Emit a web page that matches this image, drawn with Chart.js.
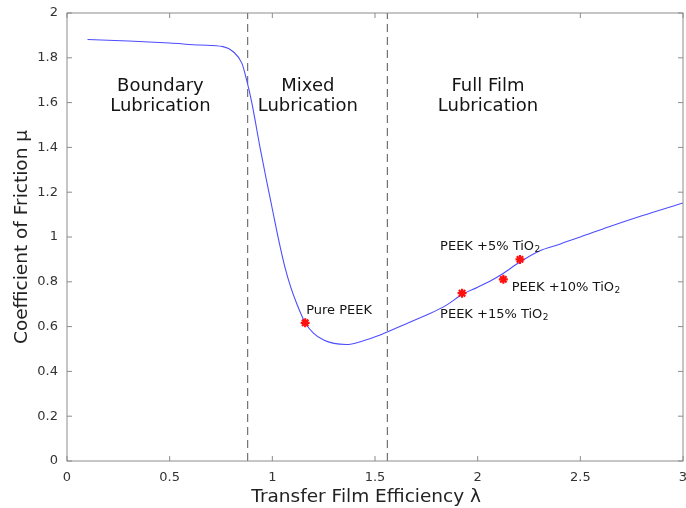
<!DOCTYPE html>
<html>
<head>
<meta charset="utf-8">
<script src="https://cdn.jsdelivr.net/npm/chart.js@4.4.1/dist/chart.umd.min.js"></script>
<style>
  html, body { margin: 0; padding: 0; background: #fff; }
  #wrap { width: 686px; height: 508px; }
</style>
</head>
<body>
<div id="wrap"><canvas id="chart" width="686" height="508"></canvas></div>
<script>
// friction curve
const lambdaValues = [0.1, 0.3, 0.5, 0.65, 0.76, 0.81, 0.852, 0.875, 0.90, 0.94, 0.97, 1.0, 1.03, 1.06,
  1.09, 1.12, 1.16, 1.20, 1.25, 1.30, 1.36, 1.44, 1.525, 1.557, 1.653, 1.765, 1.85, 1.924,
  2.0, 2.07, 2.12, 2.2, 2.3, 2.4, 2.5, 2.64, 2.8, 3.0];
const muValues = [1.882, 1.875, 1.866, 1.857, 1.85, 1.827, 1.775, 1.70, 1.60, 1.40, 1.26, 1.125, 0.99, 0.87,
  0.775, 0.70, 0.617, 0.571, 0.54, 0.525, 0.52, 0.536, 0.5625, 0.575, 0.613, 0.657, 0.697, 0.743,
  0.776, 0.808, 0.835, 0.885, 0.938, 0.968, 1.0, 1.046, 1.095, 1.152];

// measured samples
const sampleNames = ['Pure PEEK', 'PEEK +15% TiO', 'PEEK +10% TiO', 'PEEK +5% TiO'];
const sampleSub = ['', '2', '2', '2'];
const sampleLambda = [1.16, 1.924, 2.125, 2.206];
const sampleMu = [0.617, 0.749, 0.811, 0.90];

// regime boundaries and names
const regimeBounds = [0.88, 1.56];
const regimeNames = [['Boundary', 'Lubrication'], ['Mixed', 'Lubrication'], ['Full Film', 'Lubrication']];

const xTicks = [0, 0.5, 1, 1.5, 2, 2.5, 3];
const xTickLabels = ['0', '0.5', '1', '1.5', '2', '2.5', '3'];
const yTicks = [0, 0.2, 0.4, 0.6, 0.8, 1, 1.2, 1.4, 1.6, 1.8, 2];
const yTickLabels = ['0', '0.2', '0.4', '0.6', '0.8', '1', '1.2', '1.4', '1.6', '1.8', '2'];

// where the texts sit, in axis units
const regimeLabelX = [0.455, 1.173, 2.05];
const regimeLabelY = [1.652, 1.5625];
const noteAnchors = [[1.165, 0.671], [1.817, 0.652], [2.166, 0.775], [1.817, 0.957]];

const FONT = '"DejaVu Sans", sans-serif';

const framePlugin = {
  id: 'frame',
  afterDraw(chart) {
    const { ctx, chartArea: a, scales: { x, y } } = chart;
    ctx.save();
    ctx.strokeStyle = '#8c8c8c';
    ctx.lineWidth = 1;
    ctx.strokeRect(a.left, a.top, a.right - a.left, a.bottom - a.top);
    ctx.beginPath();
    xTicks.forEach(v => {
      const px = x.getPixelForValue(v);
      ctx.moveTo(px, a.bottom); ctx.lineTo(px, a.bottom - 5);
      ctx.moveTo(px, a.top); ctx.lineTo(px, a.top + 5);
    });
    yTicks.forEach(v => {
      const py = y.getPixelForValue(v);
      ctx.moveTo(a.left, py); ctx.lineTo(a.left + 5, py);
      ctx.moveTo(a.right, py); ctx.lineTo(a.right - 5, py);
    });
    ctx.stroke();

    // regime names
    ctx.fillStyle = '#141414';
    ctx.font = '18px ' + FONT;
    ctx.textAlign = 'center';
    ctx.textBaseline = 'alphabetic';
    regimeNames.forEach((lines, i) => {
      lines.forEach((t, j) => {
        ctx.fillText(t, x.getPixelForValue(regimeLabelX[i]), y.getPixelForValue(regimeLabelY[j]));
      });
    });

    // sample notes
    ctx.textAlign = 'left';
    ctx.textBaseline = 'middle';
    sampleNames.forEach((t, i) => {
      const px = x.getPixelForValue(noteAnchors[i][0]);
      const py = y.getPixelForValue(noteAnchors[i][1]);
      ctx.font = '13px ' + FONT;
      ctx.fillText(t, px, py);
      if (sampleSub[i]) {
        const w = ctx.measureText(t).width;
        ctx.font = '9px ' + FONT;
        ctx.fillText(sampleSub[i], px + w + 0.5, py + 3);
      }
    });
    ctx.restore();
  }
};

function noPad(s) {
  s.paddingLeft = 0; s.paddingRight = 0; s.paddingTop = 0; s.paddingBottom = 0;
}

new Chart(document.getElementById('chart'), {
  type: 'scatter',
  data: {
    datasets: [
      {
        label: 'samples',
        data: sampleLambda.map((v, i) => ({ x: v, y: sampleMu[i] })),
        pointStyle: 'star',
        pointRadius: 4.5,
        borderWidth: 2.2,
        borderColor: '#ff1010',
        backgroundColor: '#ff1010',
        order: 0
      },
      {
        type: 'line',
        label: 'curve',
        data: lambdaValues.map((v, i) => ({ x: v, y: muValues[i] })),
        borderColor: '#4d4dff',
        borderWidth: 1.1,
        pointRadius: 0,
        cubicInterpolationMode: 'monotone',
        fill: false,
        order: 1
      },
      ...regimeBounds.map(b => ({
        type: 'line',
        label: 'bound',
        data: [{ x: b, y: 0 }, { x: b, y: 2 }],
        borderColor: '#555555',
        borderWidth: 1,
        borderDash: [8, 5],
        pointRadius: 0,
        fill: false,
        order: 2
      }))
    ]
  },
  options: {
    responsive: false,
    animation: false,
    events: [],
    layout: { autoPadding: false, padding: { top: 13, right: 3, left: 0, bottom: 0 } },
    plugins: { legend: { display: false }, tooltip: { enabled: false } },
    scales: {
      x: {
        type: 'linear', min: 0, max: 3,
        afterBuildTicks: s => { s.ticks = xTicks.map(v => ({ value: v })); },
        afterFit: s => { s.height = 47; noPad(s); },
        grid: { display: false, drawTicks: false },
        border: { display: false },
        ticks: {
          padding: 9,
          color: '#333333',
          font: { family: FONT, size: 13 },
          maxRotation: 0,
          callback: (v, i) => xTickLabels[i]
        },
        title: {
          display: true,
          text: 'Transfer Film Efficiency \u03bb   ',
          color: '#222222',
          font: { family: FONT, size: 18.5 },
          padding: { top: 0, bottom: 0 }
        }
      },
      y: {
        type: 'linear', min: 0, max: 2,
        afterBuildTicks: s => { s.ticks = yTicks.map(v => ({ value: v })); },
        afterFit: s => { s.width = 67; noPad(s); },
        grid: { display: false, drawTicks: false },
        border: { display: false },
        ticks: {
          padding: 9,
          color: '#333333',
          font: { family: FONT, size: 13 },
          callback: (v, i) => yTickLabels[i]
        },
        title: {
          display: true,
          text: 'Coefficient of Friction \u03bc',
          color: '#222222',
          font: { family: FONT, size: 18.5 },
          padding: { top: 11.5, bottom: 0 }
        }
      }
    }
  },
  plugins: [framePlugin]
});
</script>
</body>
</html>
